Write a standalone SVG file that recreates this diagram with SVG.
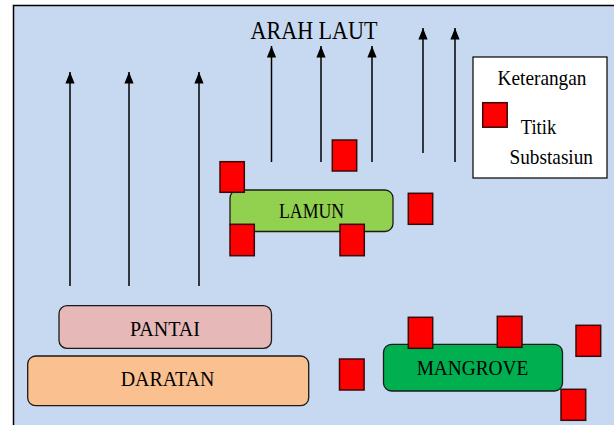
<svg xmlns="http://www.w3.org/2000/svg" width="614" height="425" viewBox="0 0 614 425">
<style>
text{font-family:"Liberation Serif","Times New Roman",Times,serif;fill:#000;}
.box{stroke:#1a1a1a;stroke-width:1.3;}
.sq{fill:#FF0000;stroke:#3a0a0a;stroke-width:1.5;}
.arr{stroke:#000;stroke-width:1.5;fill:none;marker-end:url(#ah);}
</style>
<defs>
<marker id="ah" markerUnits="userSpaceOnUse" markerWidth="10" markerHeight="12" viewBox="0 0 10 12" refX="5" refY="0" orient="0">
<path d="M5,0 L9.6,11.5 L0.4,11.5 Z" fill="#000"/>
</marker>
</defs>
<rect x="13.5" y="5.5" width="640" height="440" fill="#C6D9F1" stroke="#000" stroke-width="1.5"/>
<g id="connectors">
<line class="arr" x1="70" y1="286" x2="70" y2="72"/>
<line class="arr" x1="129" y1="286" x2="129" y2="72"/>
<line class="arr" x1="199" y1="286" x2="199" y2="72"/>
<line class="arr" x1="271.5" y1="162" x2="271.5" y2="46"/>
<line class="arr" x1="321" y1="162" x2="321" y2="46"/>
<line class="arr" x1="372" y1="162" x2="372" y2="46"/>
<line class="arr" x1="423" y1="153" x2="423" y2="28"/>
<line class="arr" x1="455" y1="162" x2="455" y2="28"/>
</g>
<g id="title"><text font-family="Liberation Serif, serif" x="250.5" y="38.5" font-size="25" textLength="127" lengthAdjust="spacingAndGlyphs">ARAH LAUT</text></g>
<g id="legend">
<rect x="473" y="57" width="134" height="121" fill="#fff" stroke="#000" stroke-width="1.2"/>
<text font-family="Liberation Serif, serif" x="497.5" y="85" font-size="22" textLength="89" lengthAdjust="spacingAndGlyphs">Keterangan</text>
<rect class="sq" x="482.7" y="102.7" width="24.5" height="24.5"/>
<text font-family="Liberation Serif, serif" x="520.7" y="134" font-size="22" textLength="35.5" lengthAdjust="spacingAndGlyphs">Titik</text>
<text font-family="Liberation Serif, serif" x="509.5" y="164.3" font-size="22" textLength="83.5" lengthAdjust="spacingAndGlyphs">Substasiun</text>
</g>
<g id="lamun">
<rect class="box" x="230" y="190" width="163" height="41.5" rx="8" fill="#92D050"/>
<text font-family="Liberation Serif, serif" x="279" y="218.3" font-size="21.5" textLength="65" lengthAdjust="spacingAndGlyphs">LAMUN</text>
</g>
<g id="pantai">
<rect class="box" x="59" y="305.7" width="212.5" height="42.6" rx="8" fill="#E6B9B8"/>
<text font-family="Liberation Serif, serif" x="130" y="336" font-size="21.5" textLength="70" lengthAdjust="spacingAndGlyphs">PANTAI</text>
</g>
<g id="daratan">
<rect class="box" x="27.7" y="356" width="281" height="49.7" rx="8" fill="#FAC090"/>
<text font-family="Liberation Serif, serif" x="120.7" y="385.7" font-size="21.5" textLength="93.6" lengthAdjust="spacingAndGlyphs">DARATAN</text>
</g>
<g id="mangrove">
<rect class="box" x="383.5" y="344.3" width="179" height="46.7" rx="8" fill="#00B050"/>
<text font-family="Liberation Serif, serif" x="416.7" y="375" font-size="21.5" textLength="111.6" lengthAdjust="spacingAndGlyphs">MANGROVE</text>
</g>
<g id="st1"><rect class="sq" x="220" y="161.7" width="24.3" height="30.6"/></g>
<g id="st2"><rect class="sq" x="332.3" y="140" width="24.4" height="31"/></g>
<g id="st3"><rect class="sq" x="230" y="224.3" width="24.3" height="31.4"/></g>
<g id="st4"><rect class="sq" x="340" y="224.3" width="24.3" height="31.4"/></g>
<g id="st5"><rect class="sq" x="408.3" y="193.3" width="24.4" height="31"/></g>
<g id="st6"><rect class="sq" x="339.5" y="359" width="24.6" height="31"/></g>
<g id="st7"><rect class="sq" x="408.3" y="317.3" width="24.4" height="31"/></g>
<g id="st8"><rect class="sq" x="497.3" y="316.3" width="24.7" height="31"/></g>
<g id="st9"><rect class="sq" x="576" y="325.3" width="24.7" height="31"/></g>
<g id="st10"><rect class="sq" x="561" y="389.3" width="24.7" height="31"/></g>
</svg>
